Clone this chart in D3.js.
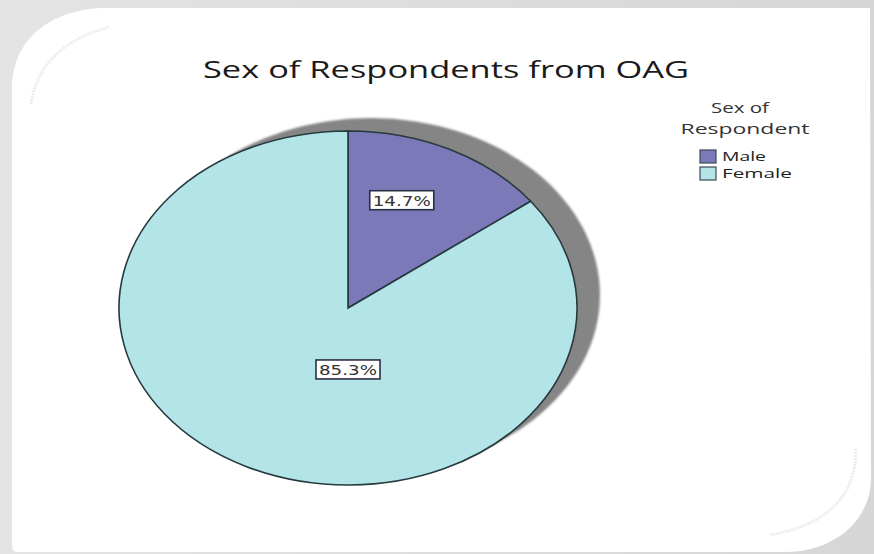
<!DOCTYPE html>
<html><head><meta charset="utf-8">
<script src="https://cdn.jsdelivr.net/npm/d3@7"></script>
<style>html,body{margin:0;padding:0;background:#fff;}svg{display:block;}</style>
</head><body>
<svg id="chart" width="874" height="554"></svg>
<script>
const categories = ["Male", "Female"];
const values = [14.7, 85.3];
const labels = ["14.7%", "85.3%"];
const colors = ["#7c79b8", "#b3e5e8"];
const titleText = "Sex of Respondents from OAG";
const legendTitle = ["Sex of", "Respondent"];

const svg = d3.select("#chart");
const W = 874, H = 554;
const defs = svg.append("defs");
const g1 = defs.append("linearGradient").attr("id","bg").attr("x1","0").attr("y1","0").attr("x2","1").attr("y2","0");
g1.append("stop").attr("offset","0").attr("stop-color","#e4e4e4");
g1.append("stop").attr("offset","1").attr("stop-color","#d6d6d6");
const blur = defs.append("filter").attr("id","blur").attr("x","-10%").attr("y","-10%").attr("width","120%").attr("height","120%");
blur.append("feGaussianBlur").attr("stdDeviation", 1.2);

// slide frame
svg.append("rect").attr("width",W).attr("height",H).attr("fill","url(#bg)");
const fp = d3.path();
fp.moveTo(12, 88);
fp.bezierCurveTo(12, 40, 50, 8, 108, 8);
fp.lineTo(870, 8);
fp.lineTo(871, 478);
fp.bezierCurveTo(871, 520, 835, 552, 785, 552);
fp.lineTo(18, 552);
fp.quadraticCurveTo(12, 552, 12, 546);
fp.closePath();
svg.append("path").attr("d", fp.toString()).attr("fill","#ffffff");
// faint decorative arcs
svg.append("path").attr("d","M31,104 Q40,45 110,27").attr("fill","none").attr("stroke","#ececec").attr("stroke-width",3).attr("stroke-dasharray","2 1");
svg.append("path").attr("d","M856,449 Q856,520 770,535").attr("fill","none").attr("stroke","#ececec").attr("stroke-width",3).attr("stroke-dasharray","2 1");

// title
svg.append("text").attr("x", 446).attr("y", 78).attr("text-anchor","middle")
  .attr("font-family","'Open Sans', sans-serif").attr("font-size", 23).attr("fill","#1a1a1a")
  .attr("textLength", 486).attr("lengthAdjust","spacingAndGlyphs").text(titleText);

// pie
const cx = 348, cy = 308, rx = 229, ry = 177;
const scaleX = rx / ry;
// shadow
svg.append("ellipse").attr("cx", cx + 23).attr("cy", cy - 13).attr("rx", rx).attr("ry", ry)
  .attr("fill","#858585").attr("filter","url(#blur)");

const pie = d3.pie().sort(null).value(d => d)(values);
const arc = d3.arc().innerRadius(0).outerRadius(ry);
const pg = svg.append("g").attr("transform", `translate(${cx},${cy}) scale(${scaleX},1)`);
pg.selectAll("path").data(pie).join("path")
  .attr("d", arc).attr("fill", (d,i) => colors[i])
  .attr("stroke","#26393d").attr("stroke-width",1.6).attr("vector-effect","non-scaling-stroke");

// labels (SPSS-style placement)
const labelAngle = [pie[0].startAngle + (pie[0].endAngle - pie[0].startAngle) * 0.4, Math.PI];
const labelFrac = [0.65, 0.35];
pie.forEach((d, i) => {
  const a = labelAngle[i], f = labelFrac[i];
  const x = cx + Math.sin(a) * rx * f;
  const y = cy - Math.cos(a) * ry * f;
  const lg = svg.append("g").attr("transform", `translate(${x},${y})`);
  lg.append("rect").attr("x", -32).attr("y", -10).attr("width", 64).attr("height", 19)
    .attr("fill","#ffffff").attr("stroke","#2b2f44").attr("stroke-width",1.6);
  lg.append("text").attr("x", 0).attr("y", 5.5).attr("text-anchor","middle")
    .attr("font-family","'DejaVu Sans', sans-serif").attr("font-size", 14).attr("fill","#333")
    .attr("textLength", 58).attr("lengthAdjust","spacingAndGlyphs").text(labels[i]);
});

// legend
const lgX = 700;
svg.append("text").attr("x", 740).attr("y", 113).attr("text-anchor","middle")
  .attr("font-family","'Open Sans', sans-serif").attr("font-size", 14).attr("fill","#333")
  .attr("textLength", 58).attr("lengthAdjust","spacingAndGlyphs").text(legendTitle[0]);
svg.append("text").attr("x", 745).attr("y", 134).attr("text-anchor","middle")
  .attr("font-family","'Open Sans', sans-serif").attr("font-size", 14).attr("fill","#333")
  .attr("textLength", 129).attr("lengthAdjust","spacingAndGlyphs").text(legendTitle[1]);
const legendLen = [44, 70];
const lg = svg.append("g");
categories.forEach((c, i) => {
  const y = 150 + i * 17;
  lg.append("rect").attr("x", lgX).attr("y", y).attr("width", 16).attr("height", 13)
    .attr("fill", colors[i]).attr("stroke","#3a4a50").attr("stroke-width",1.2);
  lg.append("text").attr("x", lgX + 22).attr("y", y + 11)
    .attr("font-family","'Open Sans', sans-serif").attr("font-size", 12).attr("fill","#222")
    .attr("textLength", legendLen[i]).attr("lengthAdjust","spacingAndGlyphs")
    .text(c);
});
</script>
</body></html>
